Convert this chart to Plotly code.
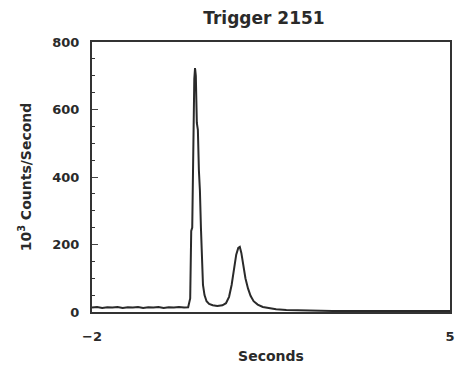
import plotly.graph_objects as go

# Time (s) and rate (10^3 counts/s)
time_s = [-2.0, -1.9, -1.8, -1.7, -1.6, -1.5, -1.4, -1.3, -1.2, -1.1,
          -1.0, -0.9, -0.8, -0.7, -0.6, -0.5, -0.4, -0.3, -0.2, -0.12,
          -0.08, -0.06, -0.04, -0.02, 0.0, 0.015, 0.03, 0.05, 0.07, 0.09,
          0.11, 0.13, 0.15, 0.17, 0.20, 0.24, 0.29, 0.36, 0.45, 0.55,
          0.62, 0.68, 0.73, 0.78, 0.82, 0.86, 0.89, 0.92, 0.96, 1.00,
          1.05, 1.10, 1.16, 1.24, 1.34, 1.46, 1.6, 1.8, 2.0, 2.3,
          2.7, 3.1, 3.5, 3.9, 4.3, 4.7, 5.0]
rate = [13, 15, 12, 14, 13, 15, 12, 14, 13, 15,
        12, 14, 13, 15, 12, 14, 13, 15, 13, 14,
        40, 240, 250, 560, 690, 723, 700, 560, 540, 420,
        360, 250, 120, 80, 50, 32, 24, 20, 18, 20,
        26, 45, 80, 130, 170, 190, 193, 175, 135, 100,
        70, 48, 32, 22, 15, 11, 8, 6, 5, 4,
        3, 3, 3, 3, 3, 3, 3]

title_text = "Trigger 2151"
x_label = "Seconds"
y_label = "10<sup>3</sup> Counts/Second"
x_ticks = [-2, 5]
y_ticks = [0, 200, 400, 600, 800]

FAM = "DejaVu Sans, Arial, sans-serif"
INK = "#2a2a2a"

fig = go.Figure()
fig.add_trace(go.Scatter(x=time_s, y=rate, mode="lines",
                         line=dict(color=INK, width=2),
                         showlegend=False, hoverinfo="skip"))

fig.update_layout(
    width=463, height=369,
    margin=dict(l=92, r=13, t=42, b=57, autoexpand=False),
    paper_bgcolor="white", plot_bgcolor="white",
    font=dict(family=FAM, size=13, color=INK, weight="bold"),
    title=dict(text=title_text, x=0.57, xanchor="center", y=0.95, yanchor="middle",
               font=dict(family=FAM, size=17, color=INK, weight="bold")),
)
fig.update_xaxes(range=[-2, 5], tickvals=x_ticks, ticktext=["\u22122", "5"],
                 automargin=False,
                 showgrid=False, zeroline=False, showline=True, linecolor="#333333",
                 linewidth=2, mirror=True, ticks="inside", ticklen=5,
                 ticklabelstandoff=11,
                 tickfont=dict(size=13, family=FAM, color=INK, weight="bold"),
                 title=dict(text=x_label, standoff=9,
                            font=dict(size=14, family=FAM, color=INK, weight="bold")))
fig.update_yaxes(range=[0, 800], tickvals=y_ticks,
                 automargin=False,
                 showgrid=False, zeroline=False, showline=True, linecolor="#333333",
                 linewidth=2, mirror=True, ticks="inside", ticklen=6,
                 minor=dict(ticks="inside", ticklen=3, dtick=50, tick0=0, tickcolor="#333333"),
                 ticklabelstandoff=8,
                 tickfont=dict(size=13, family=FAM, color=INK, weight="bold"),
                 title=dict(text=y_label, standoff=17,
                            font=dict(size=14, family=FAM, color=INK, weight="bold")))

fig.write_html("out.html")
